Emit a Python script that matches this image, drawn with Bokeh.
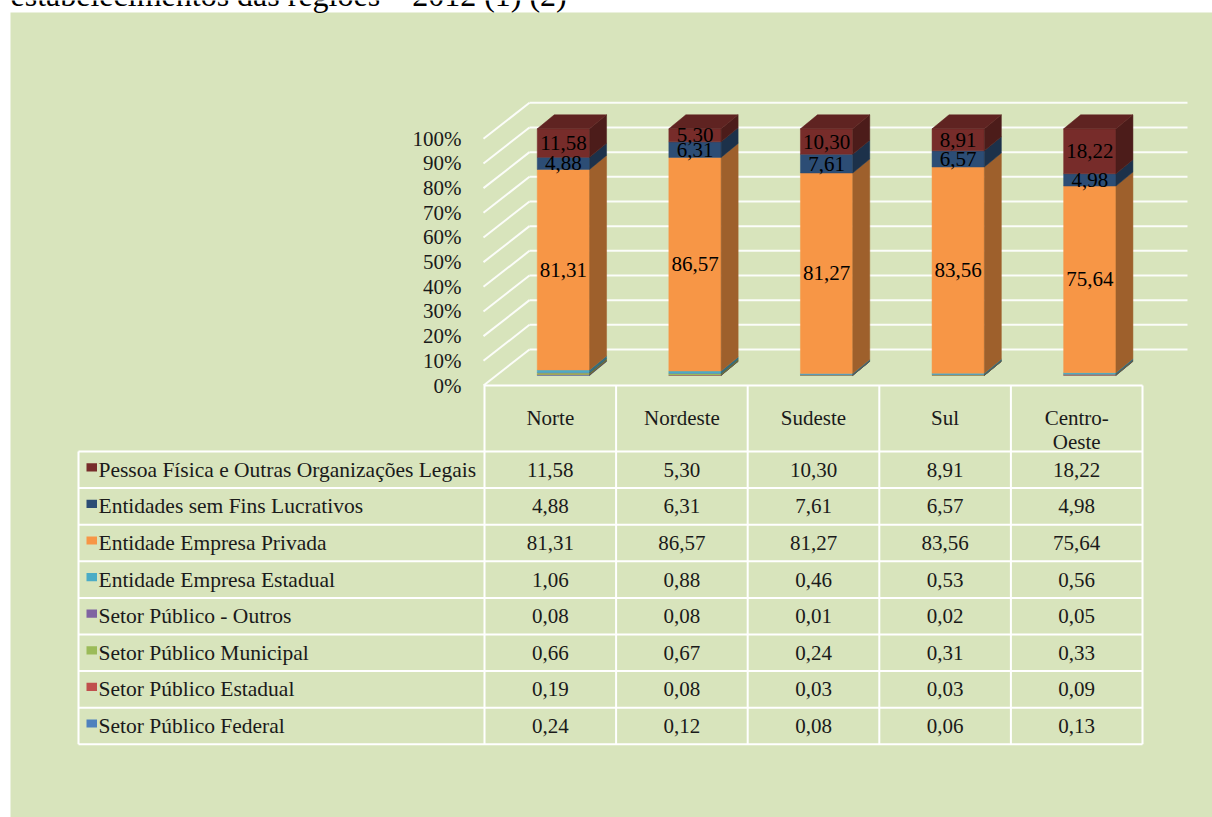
from bokeh.plotting import figure
from bokeh.models import Range1d
from bokeh.core.properties import value
from bokeh.embed import file_html
from bokeh.resources import INLINE

# ---------------- data ----------------
title_text = "estabelecimentos das regiões – 2012 (1) (2)"
regions = ["Norte", "Nordeste", "Sudeste", "Sul", "Centro-Oeste"]
header_lines = [["Norte"], ["Nordeste"], ["Sudeste"], ["Sul"], ["Centro-", "Oeste"]]

# table order (top to bottom)
series_names = [
    "Pessoa Física e Outras Organizações Legais",
    "Entidades sem Fins Lucrativos",
    "Entidade Empresa Privada",
    "Entidade Empresa Estadual",
    "Setor Público - Outros",
    "Setor Público Municipal",
    "Setor Público Estadual",
    "Setor Público Federal",
]
pessoa = [11.58, 5.30, 10.30, 8.91, 18.22]
sem_fins = [4.88, 6.31, 7.61, 6.57, 4.98]
privada = [81.31, 86.57, 81.27, 83.56, 75.64]
emp_estadual = [1.06, 0.88, 0.46, 0.53, 0.56]
pub_outros = [0.08, 0.08, 0.01, 0.02, 0.05]
pub_municipal = [0.66, 0.67, 0.24, 0.31, 0.33]
pub_estadual = [0.19, 0.08, 0.03, 0.03, 0.09]
pub_federal = [0.24, 0.12, 0.08, 0.06, 0.13]
series_values = [pessoa, sem_fins, privada, emp_estadual,
                 pub_outros, pub_municipal, pub_estadual, pub_federal]
series_colors = ["#772C2A", "#2C4D75", "#F79646", "#4BACC6",
                 "#8064A2", "#9BBB59", "#C0504D", "#4F81BD"]
series_labelled = [True, True, True, False, False, False, False, False]
y_ticks = [0, 10, 20, 30, 40, 50, 60, 70, 80, 90, 100]

# ---------------- layout (pixels of the page) ----------------
W, H = 1212, 817
OX, OY = 0, 0
CAT0_PX, CAT_PX = 562.9, 131.6      # bar-front centre of first category, spacing
ZERO_PY, PCT_PX = 375.0, 2.467      # 0 % on bar front plane, px per percent
FONT = value("Liberation Serif")


def X(px):
    return (px - CAT0_PX) / CAT_PX


def Y(py):
    return (ZERO_PY - py) / PCT_PX


def shade(hex_color, f):
    h = hex_color.lstrip("#")
    r, g, b = (int(h[i:i + 2], 16) for i in (0, 2, 4))
    return "#%02x%02x%02x" % (int(r * f), int(g * f), int(b * f))


def fmt(v):
    return ("%.2f" % v).replace(".", ",")


p = figure(width=W, height=H,
           x_range=Range1d(X(OX), X(OX + W)),
           y_range=Range1d(Y(OY + H), Y(OY)),
           x_axis_type=None, y_axis_type=None,
           output_backend="svg", toolbar_location=None,
           min_border=0, outline_line_color=None,
           background_fill_color="white", border_fill_color="white")
p.grid.visible = False

# green panel
p.quad(left=X(10), right=X(1230), top=Y(12), bottom=Y(840),
       fill_color="#D8E4BC", line_color=None)

# title (cut at the top edge, as in the source)
p.text(x=[X(10)], y=[Y(-5.5)], text=[title_text], text_font=FONT,
       text_font_size="32px", text_baseline="middle", text_align="left",
       text_color="black")

# ---------------- 3D walls ----------------
BACK_DY = 26 / PCT_PX
FRONT_DY = -10 / PCT_PX
back_y = [v + BACK_DY for v in y_ticks]
front_y = [v + FRONT_DY for v in y_ticks]
p.segment(x0=X(529), x1=X(1187), y0=back_y, y1=back_y,
          line_color="white", line_width=2, line_alpha=0.9)
p.segment(x0=X(483), x1=X(529), y0=front_y, y1=back_y,
          line_color="white", line_width=2, line_alpha=0.9)

# y tick labels
p.text(x=X(461), y=front_y, text=["%d%%" % v for v in y_ticks],
       text_font=FONT, text_font_size="21px", text_align="right",
       text_baseline="middle", text_color="#1a1a1a")

# ---------------- 3D stacked bars ----------------
HALF = 52.3 / 2 / CAT_PX
DX = 17 / CAT_PX
DY = 14 / PCT_PX

fl, fr, fb, ft, fc = [], [], [], [], []
sxs, sys_, scs = [], [], []
txs, tys, tcs = [], [], []
lx, ly, lt = [], [], []
stack_order = list(range(len(series_values)))[::-1]   # bottom first
for i in range(len(regions)):
    cum = 0.0
    xr = i + HALF
    for k in stack_order:
        v = series_values[k][i]
        y0, y1 = cum, cum + v
        cum = y1
        col = series_colors[k]
        fl.append(i - HALF); fr.append(xr); fb.append(y0); ft.append(y1)
        fc.append(col)
        sxs.append([xr, xr + DX, xr + DX, xr])
        sys_.append([y0, y0 + DY, y1 + DY, y1])
        scs.append(shade(col, 0.64))
        if series_labelled[k]:
            lx.append(i); ly.append((y0 + y1) / 2); lt.append(fmt(v))
    # top face of the topmost segment
    top_col = series_colors[stack_order[-1]]
    xl = i - HALF
    txs.append([xl, xl + DX, xr + DX, xr])
    tys.append([cum, cum + DY, cum + DY, cum])
    tcs.append(shade(top_col, 0.8))

p.quad(left=fl, right=fr, bottom=fb, top=ft, fill_color=fc,
       line_color=fc, line_width=0.5)
p.patches(xs=sxs, ys=sys_, fill_color=scs, line_color=scs, line_width=0.5)
p.patches(xs=txs, ys=tys, fill_color=tcs, line_color=tcs, line_width=0.5)

p.text(x=lx, y=ly, text=lt, text_font=FONT, text_font_size="21px",
       text_align="center", text_baseline="middle", text_color="black")

# ---------------- data table ----------------
T_LEFT, T_COL0, COL_W = 78, 484, 131.6
T_HEAD_TOP, T_ROW0, ROW_H = 385, 451, 36.6
n_rows = len(series_names)
col_edges = [T_COL0 + COL_W * k for k in range(len(regions) + 1)]
row_edges = [T_ROW0 + ROW_H * k for k in range(n_rows + 1)]
T_RIGHT, T_BOTTOM = col_edges[-1], row_edges[-1]

# horizontal lines
hx0 = [X(T_COL0)] + [X(T_LEFT)] * len(row_edges)
hy = [Y(T_HEAD_TOP)] + [Y(r) for r in row_edges]
p.segment(x0=hx0, x1=X(T_RIGHT), y0=hy, y1=hy, line_color="white",
          line_width=2)
# vertical lines
vx = [X(T_LEFT)] + [X(c) for c in col_edges]
vy0 = [Y(T_ROW0)] + [Y(T_HEAD_TOP)] * len(col_edges)
p.segment(x0=vx, x1=vx, y0=vy0, y1=Y(T_BOTTOM), line_color="white",
          line_width=2)

# header
hx, hyt, htx = [], [], []
for j, lines in enumerate(header_lines):
    cx = (col_edges[j] + col_edges[j + 1]) / 2
    for n, s in enumerate(lines):
        hx.append(X(cx)); hyt.append(Y(417 + 24 * n)); htx.append(s)
p.text(x=hx, y=hyt, text=htx, text_font=FONT, text_font_size="21px",
       text_align="center", text_baseline="middle", text_color="#1a1a1a")

# rows
cx_list, cy_list, ct_list = [], [], []
sw_l, sw_r, sw_t, sw_b = [], [], [], []
rl_y = []
for r in range(n_rows):
    cy = (row_edges[r] + row_edges[r + 1]) / 2
    rl_y.append(Y(cy))
    sw_l.append(X(86)); sw_r.append(X(96.5))
    sw_t.append(Y(cy - 6.6)); sw_b.append(Y(cy + 1.6))
    for j in range(len(regions)):
        cx = (col_edges[j] + col_edges[j + 1]) / 2
        cx_list.append(X(cx)); cy_list.append(Y(cy))
        ct_list.append(fmt(series_values[r][j]))

p.quad(left=sw_l, right=sw_r, top=sw_t, bottom=sw_b,
       fill_color=series_colors, line_color=None)
p.text(x=X(98), y=rl_y, text=series_names, text_font=FONT,
       text_font_size="21.5px", text_align="left", text_baseline="middle",
       text_color="#1a1a1a")
p.text(x=cx_list, y=cy_list, text=ct_list, text_font=FONT,
       text_font_size="21px", text_align="center", text_baseline="middle",
       text_color="#1a1a1a")

open("out.html", "w").write(file_html(p, INLINE))
